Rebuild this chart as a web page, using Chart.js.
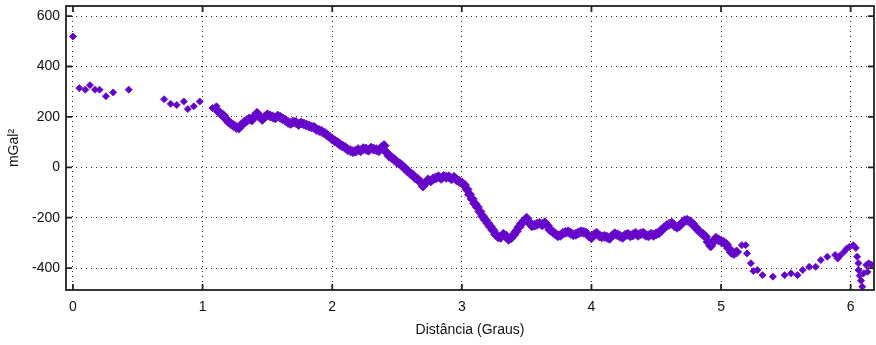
<!DOCTYPE html>
<html>
<head>
<meta charset="utf-8">
<script src="https://cdn.jsdelivr.net/npm/chart.js@4/dist/chart.umd.min.js"></script>
<style>
  body { margin: 0; background: #fff; overflow: hidden; }
</style>
</head>
<body>
<canvas id="gravChart" width="880" height="345"></canvas>
<script>
// Axis ticks
const xTicks = [0, 1, 2, 3, 4, 5, 6];
const yTicks = [-400, -200, 0, 200, 400, 600];

// Sparse points at the start of the profile
const startDist = [0.0, 0.049, 0.095, 0.131, 0.17, 0.205, 0.254, 0.31, 0.43, 0.703, 0.753, 0.80, 0.855, 0.886, 0.932, 0.978, 1.076, 1.107];
const startVal = [519, 314, 308, 326, 308, 308, 282, 297, 308, 270, 252, 247, 261, 231, 242, 261, 235, 242];

// Dense band of points
const bandDist = [
  1.12, 1.14, 1.16, 1.18, 1.20, 1.22, 1.24, 1.26, 1.28, 1.30, 1.32, 1.34, 1.36, 1.38, 1.40, 1.42, 1.44, 1.46, 1.48, 1.50,
  1.52, 1.54, 1.56, 1.58, 1.60, 1.62, 1.64, 1.66, 1.68, 1.70, 1.72, 1.74, 1.76, 1.78, 1.80, 1.82, 1.84, 1.86, 1.88, 1.90,
  1.92, 1.94, 1.96, 1.98, 2.00, 2.02, 2.04, 2.06, 2.08, 2.10, 2.12, 2.14, 2.16, 2.18, 2.20, 2.22, 2.24, 2.26, 2.28, 2.30,
  2.32, 2.34, 2.36, 2.38, 2.40, 2.42, 2.44, 2.46, 2.48, 2.50, 2.52, 2.54, 2.56, 2.58, 2.60, 2.62, 2.64, 2.66, 2.68, 2.70,
  2.72, 2.74, 2.76, 2.78, 2.80, 2.82, 2.84, 2.86, 2.88, 2.90, 2.92, 2.94, 2.96, 2.98, 3.00, 3.02, 3.04, 3.06, 3.08, 3.10,
  3.12, 3.14, 3.16, 3.18, 3.20, 3.22, 3.24, 3.26, 3.28, 3.30, 3.32, 3.34, 3.36, 3.38, 3.40, 3.42, 3.44, 3.46, 3.48, 3.50,
  3.52, 3.54, 3.56, 3.58, 3.60, 3.62, 3.64, 3.66, 3.68, 3.70, 3.72, 3.74, 3.76, 3.78, 3.80, 3.82, 3.84, 3.86, 3.88, 3.90,
  3.92, 3.94, 3.96, 3.98, 4.00, 4.02, 4.04, 4.06, 4.08, 4.10, 4.12, 4.14, 4.16, 4.18, 4.20, 4.22, 4.24, 4.26, 4.28, 4.30,
  4.32, 4.34, 4.36, 4.38, 4.40, 4.42, 4.44, 4.46, 4.48, 4.50, 4.52, 4.54, 4.56, 4.58, 4.60, 4.62, 4.64, 4.66, 4.68, 4.70,
  4.72, 4.74, 4.76, 4.78, 4.80, 4.82, 4.84, 4.86, 4.88, 4.90, 4.92, 4.94, 4.96, 4.98, 5.00, 5.02, 5.04, 5.06, 5.08, 5.10,
  5.12
];
const bandVal = [
  222, 212, 205, 192, 180, 172, 165, 158, 156, 168, 178, 185, 192, 188, 202, 214, 200, 190, 200, 208,
  204, 200, 196, 203, 198, 192, 186, 178, 174, 180, 178, 170, 176, 172, 168, 164, 160, 158, 150, 146,
  142, 136, 128, 120, 112, 104, 98, 90, 84, 78, 70, 66, 62, 64, 70, 66, 74, 72, 68, 76,
  72, 70, 66, 78, 86, 58, 44, 38, 30, 20, 14, 6, -4, -14, -24, -30, -42, -48, -58, -74,
  -62, -50, -54, -46, -42, -38, -44, -36, -40, -38, -46, -40, -50, -56, -62, -70, -88, -108, -126, -144,
  -158, -176, -194, -208, -222, -236, -250, -266, -276, -278, -266, -272, -286, -280, -268, -254, -238, -224, -212, -202,
  -218, -232, -230, -226, -222, -228, -220, -232, -248, -256, -264, -272, -270, -262, -258, -256, -262, -268, -266, -260,
  -256, -258, -262, -272, -280, -268, -262, -272, -276, -274, -278, -282, -272, -264, -268, -274, -278, -270, -266, -272,
  -268, -262, -270, -264, -262, -270, -272, -266, -270, -264, -260, -250, -240, -232, -226, -222, -232, -238, -232, -220,
  -212, -210, -216, -224, -236, -248, -258, -266, -276, -296, -312, -296, -282, -288, -294, -298, -306, -322, -338, -342,
  -336
];

// Sparse points at the end of the profile
const tailDist = [5.16, 5.19, 5.20, 5.23, 5.25, 5.28, 5.32, 5.40, 5.49, 5.54, 5.59, 5.63, 5.68, 5.73, 5.77, 5.82, 5.88, 5.90, 5.92, 5.95, 5.97, 5.99, 6.02, 6.04, 6.05, 6.06, 6.06, 6.07, 6.08, 6.09, 6.10, 6.12, 6.13, 6.14, 6.16];
const tailVal = [-309, -309, -342, -381, -412, -408, -428, -434, -428, -421, -428, -408, -395, -395, -368, -355, -348, -362, -350, -335, -322, -316, -309, -320, -355, -381, -408, -430, -450, -474, -421, -388, -415, -381, -386];

const toPoints = (dist, val) => dist.map((d, i) => ({ x: d, y: val[i] }));

const axisFont = { family: "'Liberation Sans', Arial, sans-serif", size: 14 };
const markColor = "#6400c8";

// frame + inward ticks like the original plot
const framePlugin = {
  id: "frame",
  afterDraw(chart) {
    const { ctx, chartArea: a, scales } = chart;
    ctx.save();
    ctx.strokeStyle = "#222";
    ctx.lineWidth = 1.8;
    ctx.strokeRect(a.left, a.top, a.right - a.left, a.bottom - a.top);
    ctx.beginPath();
    xTicks.forEach(v => {
      const px = scales.x.getPixelForValue(v);
      ctx.moveTo(px, a.bottom); ctx.lineTo(px, a.bottom - 6);
      ctx.moveTo(px, a.top); ctx.lineTo(px, a.top + 6);
    });
    yTicks.forEach(v => {
      const py = scales.y.getPixelForValue(v);
      ctx.moveTo(a.left, py); ctx.lineTo(a.left + 6, py);
      ctx.moveTo(a.right, py); ctx.lineTo(a.right - 6, py);
    });
    ctx.stroke();
    ctx.restore();
  }
};

const markStyle = {
  pointStyle: "rectRot",
  borderWidth: 1,
  backgroundColor: markColor,
  borderColor: "#6c14d0"
};

new Chart("gravChart", {
  type: "scatter",
  data: {
    datasets: [
      { label: "start", data: toPoints(startDist, startVal), pointRadius: 3.5, ...markStyle },
      { label: "band", data: toPoints(bandDist, bandVal), pointRadius: 5, ...markStyle },
      { label: "tail", data: toPoints(tailDist, tailVal), pointRadius: 3.5, ...markStyle }
    ]
  },
  options: {
    responsive: false,
    animation: false,
    layout: { padding: { top: 5, right: 0, left: 0, bottom: 0 } },
    plugins: { legend: { display: false }, tooltip: { enabled: false } },
    scales: {
      x: {
        type: "linear",
        min: -0.054,
        max: 6.18,
        afterBuildTicks: s => { s.ticks = xTicks.map(v => ({ value: v })); },
        afterFit: s => { s.height = 55; s.paddingLeft = 0; s.paddingRight = 0; },
        ticks: { font: axisFont, color: "#111", padding: 9, maxRotation: 0 },
        grid: { color: "#222", lineWidth: 1, drawTicks: false },
        border: { display: false, dash: [1, 4] },
        title: { display: true, text: "Distância (Graus)", font: axisFont, color: "#111", padding: { top: 0, bottom: 6 } }
      },
      y: {
        min: -487,
        max: 640,
        afterBuildTicks: s => { s.ticks = yTicks.map(v => ({ value: v })); },
        afterFit: s => { s.width = 66; s.paddingTop = 0; s.paddingBottom = 0; },
        ticks: { font: axisFont, color: "#111", padding: 6 },
        grid: { color: "#222", lineWidth: 1, drawTicks: false },
        border: { display: false, dash: [1, 4] },
        title: { display: true, text: "mGal²", font: axisFont, color: "#111", padding: { top: 6, bottom: 0 } }
      }
    }
  },
  plugins: [framePlugin]
});
</script>
</body>
</html>
